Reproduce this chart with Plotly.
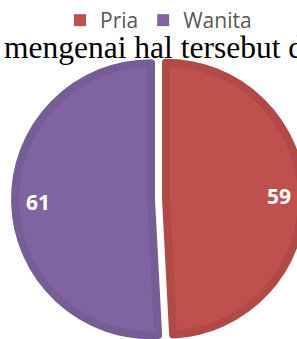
import math
import plotly.graph_objects as go

# ---- data ----
labels = ["Pria", "Wanita"]
values = [59, 61]
fill_colors = ["#C0504D", "#8064A2"]
band_colors = ["#B14A47", "#775D96"]
overlay_text = "mengenai hal tersebut d"

W, H = 320, 345

def px_x(p):
    return p / W

def px_y(p):
    return 1 - p / H

cx, cy, half = 158.5, 199.0, 143.5
dom = dict(x=[px_x(cx - half), px_x(cx + half)], y=[px_y(cy + half), px_y(cy - half)])
r_fill = 136.0
pull = half / r_fill - 1
label_frac = 0.83

fig = go.Figure()

# legend carrier (tiny, hidden under the main pie)
fig.add_trace(go.Pie(
    labels=labels, values=values, sort=False, direction="clockwise", rotation=0,
    marker=dict(colors=fill_colors, line=dict(width=0)),
    textinfo="none", hoverinfo="skip", showlegend=True,
    domain=dict(x=[px_x(100), px_x(104)], y=[px_y(202), px_y(198)]),
))

# main pie with darker bevel band
fig.add_trace(go.Pie(
    labels=labels, values=values, sort=False, direction="clockwise", rotation=0,
    marker=dict(colors=fill_colors, line=dict(width=8, color=band_colors)),
    pull=[pull, pull], textinfo="none", hoverinfo="skip", showlegend=False,
    domain=dom,
))

# value labels placed along each slice's bisector, near the rim
total = sum(values)
cum = 0.0
for v in values:
    theta = 2 * math.pi * (cum + v / 2) / total
    cum += v
    dist = (pull + label_frac) * r_fill
    lx = cx + dist * math.sin(theta)
    ly = cy - dist * math.cos(theta)
    fig.add_annotation(
        text=str(v), xref="paper", yref="paper", x=px_x(lx), y=px_y(ly),
        xanchor="center", yanchor="middle", showarrow=False,
        font=dict(family="Open Sans", size=21, color="white", weight="bold"),
    )

fig.add_annotation(
    text=overlay_text, xref="paper", yref="paper",
    x=px_x(1.5), y=px_y(47.5), xanchor="left", yanchor="middle",
    showarrow=False, font=dict(family="Liberation Serif", size=31.5, color="black"),
)

fig.update_layout(
    width=W, height=H,
    margin=dict(l=0, r=0, t=0, b=0),
    paper_bgcolor="white", plot_bgcolor="white",
    showlegend=True,
    legend=dict(
        orientation="h", x=px_x(60), xanchor="left", y=px_y(20.5), yanchor="middle",
        font=dict(family="Open Sans", size=21, color="#595959"),
        bgcolor="rgba(0,0,0,0)", traceorder="normal",
    ),
)

fig.write_html(
    "out.html",
    config={"displayModeBar": False},
    post_script="document.body.style.margin='0';document.body.style.overflow='hidden';",
)
